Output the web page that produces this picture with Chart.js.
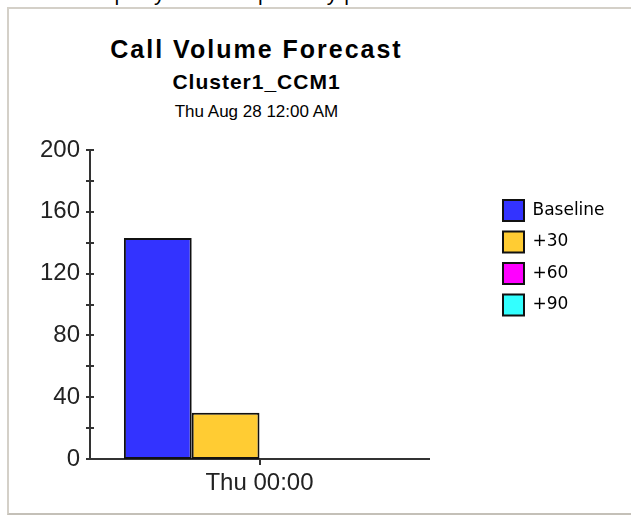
<!DOCTYPE html>
<html>
<head>
<meta charset="utf-8">
<script src="https://cdn.jsdelivr.net/npm/chart.js@4.4.1/dist/chart.umd.min.js"></script>
<style>
  html, body { margin: 0; padding: 0; background: #fff; }
  body { position: relative; width: 631px; height: 517px; overflow: hidden; font-family: Arial, "Liberation Sans", sans-serif; }
  #tabs { position: absolute; left: 114px; top: -18px; font-size: 22px; line-height: 22px; color: #000; white-space: pre; }
  #frame { position: absolute; left: 7px; top: 7px; width: 640px; height: 504px;
           border-left: 2px solid #d4d0c8; border-top: 2px solid #d4d0c8; border-bottom: 2px solid #c4c0b8; }
  .t { position: absolute; left: 0; width: 513px; text-align: center; color: #000; white-space: nowrap; }
  #t1 { top: 37px; font-weight: bold; font-size: 25px; line-height: 25px; letter-spacing: 2px; }
  #t2 { top: 71px; font-weight: bold; font-size: 21px; line-height: 21px; letter-spacing: 1px; }
  #t3 { top: 103px; font-size: 17px; line-height: 17px; }
  #chart { position: absolute; left: 0; top: 0; }
</style>
</head>
<body>
<div id="tabs">| Day of Week | History |</div>
<div id="frame"></div>
<div class="t" id="t1">Call Volume Forecast</div>
<div class="t" id="t2">Cluster1_CCM1</div>
<div class="t" id="t3">Thu Aug 28 12:00 AM</div>
<canvas id="chart" width="631" height="517"></canvas>
<script>
// chart data
const categories = ["Thu 00:00"];
const seriesNames = ["Baseline", "+30", "+60", "+90"];
const seriesValues = [[143], [30], [0], [0]];
const seriesColors = ["#3333ff", "#ffcc33", "#ff00ff", "#33ffff"];
const yMin = 0;
const yMax = 200;
const yStep = 20;
const yLabelStep = 40;

const tickFont = { family: "Arial, 'Liberation Sans', sans-serif", size: 24 };

// small tick marks that cross the y axis line
const crossTicks = {
  id: "crossTicks",
  afterDatasetsDraw(chart) {
    const y = chart.scales.y;
    const ctx = chart.ctx;
    const x0 = chart.chartArea.left;
    ctx.save();
    ctx.strokeStyle = "#333";
    ctx.lineWidth = 2;
    y.ticks.forEach(t => {
      const py = Math.round(y.getPixelForValue(t.value));
      ctx.beginPath();
      ctx.moveTo(x0 - 4, py);
      ctx.lineTo(x0 + 4, py);
      ctx.stroke();
    });
    ctx.restore();
  }
};

// legend keeps its slot in the layout, but is drawn further right
const legendPlace = {
  id: "legendPlace",
  afterLayout(chart) {
    const lg = chart.legend;
    lg.left = 492.5;
    lg.right = 631;
    lg.width = lg.right - lg.left;
  }
};

const datasets = seriesNames.map((name, i) => ({
  label: name,
  data: seriesValues[i],
  backgroundColor: seriesColors[i],
  borderColor: "#111",
  borderWidth: 2,
  borderSkipped: false,
  categoryPercentage: 0.8,
  barPercentage: 1.0
}));

new Chart(document.getElementById("chart"), {
  type: "bar",
  data: { labels: categories, datasets: datasets },
  plugins: [crossTicks, legendPlace],
  options: {
    responsive: false,
    animation: false,
    devicePixelRatio: 1,
    layout: { padding: { left: 10, top: 150, bottom: 18, right: 102 } },
    plugins: {
      tooltip: { enabled: false },
      title: { display: false },
      legend: {
        position: "right",
        align: "start",
        maxWidth: 100,
        title: { display: true, text: " ", font: { size: 10 }, padding: { top: 27.5, bottom: 0 } },
        labels: {
          boxWidth: 21,
          boxHeight: 21,
          padding: 10.5,
          color: "#000",
          font: { family: "'DejaVu Sans', sans-serif", size: 17 }
        }
      }
    },
    scales: {
      x: {
        offset: true,
        grid: { display: true, drawOnChartArea: false, offset: false, tickLength: 6, color: "#333", lineWidth: 2 },
        border: { display: true, color: "#333", width: 2 },
        ticks: { font: tickFont, color: "#222", padding: 4 },
        afterFit(s) { s.height = 40; }
      },
      y: {
        min: yMin,
        max: yMax,
        grid: { display: false, drawTicks: false },
        border: { display: true, color: "#333", width: 2 },
        ticks: {
          stepSize: yStep,
          autoSkip: false,
          padding: 10,
          font: tickFont,
          color: "#222",
          callback: v => (v % yLabelStep === 0 ? v : "")
        },
        afterFit(s) { s.width = 80; }
      }
    }
  }
});
</script>
</body>
</html>
